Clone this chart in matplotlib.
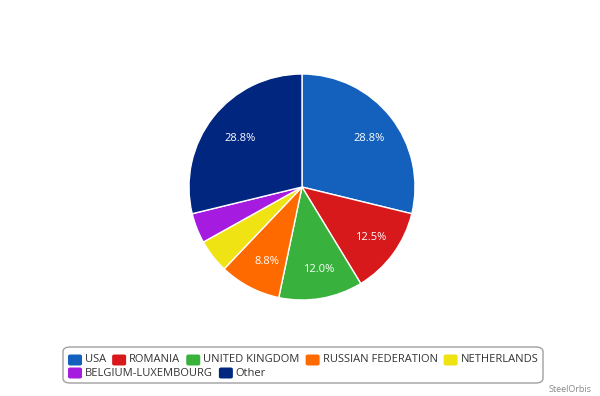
import matplotlib
matplotlib.use("Agg")
import matplotlib.pyplot as plt
from matplotlib.patches import FancyBboxPatch

plt.rcParams['font.family'] = ['Open Sans', 'DejaVu Sans']

countries = ["USA", "ROMANIA", "UNITED KINGDOM", "RUSSIAN FEDERATION",
             "NETHERLANDS", "BELGIUM-LUXEMBOURG", "Other"]
shares = [28.8, 12.5, 12.0, 8.8, 4.8, 4.3, 28.8]
colors = ["#1360BD", "#D7191C", "#38B23C", "#FF6A00",
          "#F0E314", "#A51BDF", "#002680"]

W, H = 600, 396
fig = plt.figure(figsize=(6, 3.96), dpi=100)
fig.patch.set_facecolor("white")

# pie: centre (302,187) px, radius 113 px
cx, cy, r = 302, 187, 113
ax = fig.add_axes([(cx - r) / W, (H - cy - r) / H, 2 * r / W, 2 * r / H])


def fmt(p):
    return f"{p:.1f}%" if p >= 8 else ""


wedges, texts, autotexts = ax.pie(
    shares, colors=colors, startangle=90, counterclock=False,
    autopct=fmt, pctdistance=0.723,
    wedgeprops=dict(edgecolor="white", linewidth=1),
    textprops=dict(color="white", fontsize=8))
# labels sit a couple of pixels right/below the geometric spot
for t in autotexts:
    px, py = t.get_position()
    t.set_position((px + 2.5 / r, py - 1.8 / r))
ax.set_aspect("equal")
ax.set_xlim(-1, 1)
ax.set_ylim(-1, 1)
ax.axis("off")

# legend box
box = FancyBboxPatch((63 / W, (H - 383) / H), 480 / W, 36 / H,
                     boxstyle="round,pad=0,rounding_size=0.012",
                     transform=fig.transFigure, facecolor="white",
                     edgecolor="#A0A0A0", linewidth=1)
fig.add_artist(box)

renderer = fig.canvas.get_renderer()
x = 68
row_y = [360, 373]
row = 0
for name, c in zip(countries, colors):
    t = fig.text(0, 0, name, fontsize=8, color="#333333", va="center", ha="left")
    tw = t.get_window_extent(renderer).width
    if x + 17 + tw > 545:
        row += 1
        x = 68
    y = row_y[row]
    sq = FancyBboxPatch((x / W, (H - y - 5.5) / H), 14 / W, 11 / H,
                        boxstyle="round,pad=0,rounding_size=0.004",
                        transform=fig.transFigure, facecolor=c, edgecolor="none")
    fig.add_artist(sq)
    t.set_position(((x + 17) / W, (H - y) / H))
    x = x + 17 + tw + 6

fig.text(592 / W, (H - 390) / H, "SteelOrbis", fontsize=6.5, color="#888888",
         ha="right", va="center")

fig.savefig("out.png", dpi=100)
